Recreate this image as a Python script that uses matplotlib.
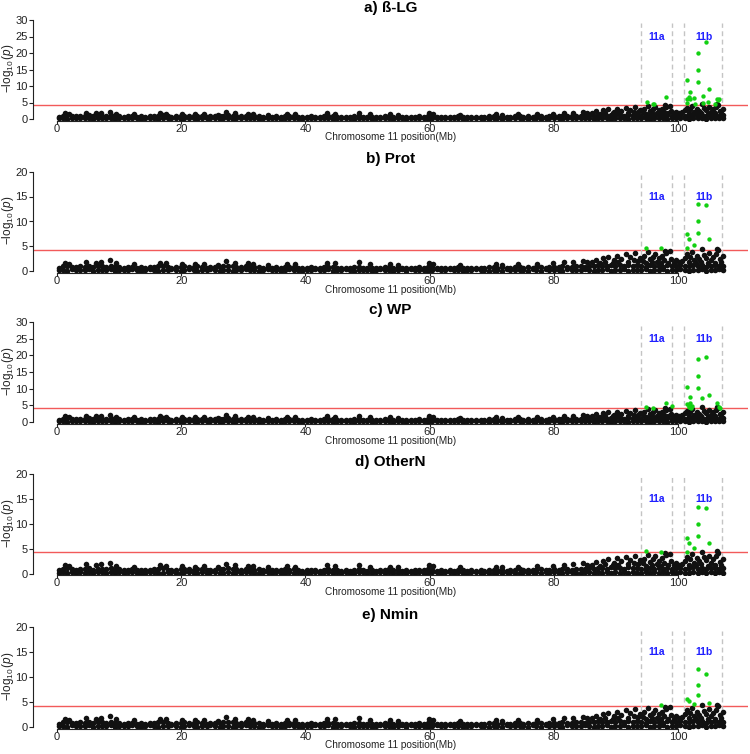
import matplotlib
matplotlib.use("Agg")
import matplotlib.pyplot as plt

plt.rcParams['font.family'] = ['Liberation Sans', 'DejaVu Sans']
plt.rcParams['mathtext.fontset'] = 'custom'
plt.rcParams['mathtext.rm'] = 'Liberation Sans'
plt.rcParams['mathtext.it'] = 'Liberation Sans:italic'

# panel info
titles = ['a) ß-LG', 'b) Prot', 'c) WP', 'd) OtherN', 'e) Nmin']
ymax = [30, 20, 30, 20, 20]
threshold = 4.3
xticks = [0, 20, 40, 60, 80, 100]
region_lines = [94.1, 99.0, 101.0, 107.1]
region_names = ['11a', '11b']
region_name_x = [96.6, 104.2]

# background SNPs (black), shared by all traits
band_pos = [0.3, 1.0, 1.6, 2.4, 3.1, 3.7, 4.5, 5.2, 5.8, 6.6,
            7.3, 7.9, 8.7, 9.4, 10.0, 10.8, 11.5, 12.1, 12.9, 13.6,
            14.2, 15.0, 15.7, 16.3, 17.1, 17.8, 18.4, 19.2, 19.9, 20.5,
            21.3, 22.0, 22.6, 23.4, 24.1, 24.7, 25.5, 26.2, 26.8, 27.6,
            28.3, 28.9, 29.7, 30.4, 31.0, 31.8, 32.5, 33.1, 33.9, 34.6,
            35.2, 36.0, 36.7, 37.3, 38.1, 38.8, 39.4, 40.2, 40.9, 41.5,
            42.3, 43.0, 43.6, 44.4, 45.1, 45.7, 46.5, 47.2, 47.8, 48.6,
            49.3, 49.9, 50.7, 51.4, 52.0, 52.8, 53.5, 54.1, 54.9, 55.6,
            56.2, 57.0, 57.7, 58.3, 59.1, 59.8, 60.4, 61.2, 61.9, 62.5,
            63.3, 64.0, 64.6, 65.4, 66.1, 66.7, 67.5, 68.2, 68.8, 69.6,
            70.3, 70.9, 71.7, 72.4, 73.0, 73.8, 74.5, 75.1, 75.9, 76.6,
            77.2, 78.0, 78.7, 79.3, 80.1, 80.8, 81.4, 82.2, 82.9, 83.5,
            84.3, 85.0, 85.6, 86.4, 87.1, 87.7, 88.5, 89.2, 89.8, 90.6,
            91.3, 91.9, 92.7, 93.4, 94.0, 94.8, 95.5, 96.1, 96.9, 97.6,
            98.2, 99.0, 99.7, 100.3, 101.1, 101.8, 102.4, 103.2, 103.9, 104.5,
            105.3, 106.0, 106.6, 107.2]
band_low = [0.2, 0.3, 0.1, 0.4, 0.2, 0.3, 0.2, 0.4, 0.1, 0.3,
            0.3, 0.2, 0.4, 0.1, 0.3, 0.2, 0.3, 0.4, 0.2, 0.1,
            0.2, 0.4, 0.3, 0.1, 0.2, 0.3, 0.4, 0.2, 0.1, 0.3,
            0.4, 0.2, 0.1, 0.3, 0.2, 0.4, 0.3, 0.1, 0.2, 0.3,
            0.1, 0.3, 0.2, 0.4, 0.3, 0.2, 0.1, 0.3, 0.4, 0.2,
            0.3, 0.1, 0.2, 0.4, 0.2, 0.3, 0.1, 0.2, 0.3, 0.4,
            0.2, 0.3, 0.4, 0.1, 0.3, 0.2, 0.4, 0.2, 0.1, 0.3,
            0.3, 0.2, 0.1, 0.3, 0.4, 0.2, 0.3, 0.1, 0.2, 0.4,
            0.1, 0.4, 0.2, 0.3, 0.2, 0.1, 0.3, 0.4, 0.2, 0.3,
            0.4, 0.2, 0.3, 0.1, 0.2, 0.3, 0.4, 0.2, 0.3, 0.1,
            0.2, 0.3, 0.1, 0.4, 0.3, 0.2, 0.2, 0.3, 0.1, 0.4,
            0.3, 0.1, 0.4, 0.2, 0.3, 0.2, 0.1, 0.4, 0.3, 0.2,
            0.2, 0.4, 0.3, 0.1, 0.3, 0.2, 0.4, 0.1, 0.3, 0.2,
            0.4, 0.1, 0.3, 0.2, 0.2, 0.4, 0.1, 0.3, 0.2, 0.4,
            0.1, 0.3, 0.2, 0.4, 0.2, 0.1, 0.3, 0.2, 0.4, 0.1,
            0.3, 0.2, 0.4, 0.2]
band_mid = [0.7, 1.0, 1.1, 0.9, 0.8, 1.0, 0.9, 1.1, 0.8, 1.0,
            1.0, 0.9, 1.1, 0.8, 0.9, 0.7, 0.8, 0.9, 0.7, 0.8,
            0.7, 0.8, 0.9, 1.0, 1.1, 0.8, 0.7, 0.8, 0.9, 1.0,
            0.9, 0.8, 1.0, 0.9, 0.7, 0.8, 0.8, 0.9, 1.0, 1.1,
            1.0, 0.9, 0.8, 1.0, 0.9, 0.8, 0.9, 0.7, 0.8, 0.7,
            0.8, 0.7, 0.9, 0.8, 0.9, 0.7, 0.6, 0.7, 0.8, 0.7,
            0.6, 0.8, 0.9, 0.8, 0.7, 0.6, 0.7, 0.6, 0.8, 0.9,
            0.7, 0.6, 0.7, 0.6, 0.7, 0.8, 0.9, 0.7, 0.8, 0.6,
            0.7, 0.6, 0.7, 0.8, 0.7, 0.9, 0.8, 0.6, 0.7, 0.6,
            0.7, 0.6, 0.8, 0.7, 0.6, 0.7, 0.6, 0.7, 0.6, 0.8,
            0.8, 0.7, 0.8, 0.6, 0.7, 0.8, 0.9, 0.7, 0.8, 0.7,
            0.8, 0.9, 0.7, 0.8, 0.9, 0.8, 1.0, 0.9, 0.8, 1.0,
            1.0, 0.9, 1.1, 1.0, 1.2, 1.1, 1.0, 1.3, 1.1, 1.2,
            1.0, 1.3, 1.1, 1.2, 1.0, 0.9, 1.2, 1.0, 1.1, 0.9,
            1.2, 1.0, 1.1, 1.2, 1.0, 1.1, 1.3, 1.0, 1.2, 0.9,
            1.1, 1.2, 1.0, 1.1]
peak_pos = [1.3, 2.0, 4.6, 6.3, 7.1, 8.6, 9.5, 12.4, 16.6, 17.5,
            20.2, 22.3, 23.7, 26.0, 27.2, 28.6, 30.7, 31.5, 33.9, 37.0,
            38.3, 43.4, 44.7, 48.7, 50.4, 53.7, 54.9, 59.9, 60.6, 64.9,
            70.7, 71.6, 74.2, 77.3, 79.9, 81.6, 83.1, 84.7, 85.4]
peak_val = [1.7, 1.5, 1.9, 1.7, 1.9, 2.2, 1.6, 1.4, 1.7, 1.6,
            1.5, 1.4, 1.5, 1.3, 2.0, 1.7, 1.6, 1.5, 1.3, 1.5,
            1.4, 1.7, 1.6, 1.8, 1.4, 1.4, 1.3, 1.7, 1.5, 1.3,
            1.4, 1.3, 1.4, 1.5, 1.6, 1.8, 1.9, 2.1, 1.8]
scat_pos = [86.2, 86.8, 87.4, 87.9, 88.3, 88.8, 89.5, 89.7, 90.1, 90.4,
            90.9, 91.6, 92.0, 92.3, 92.9, 93.1, 93.5, 93.9, 94.3, 94.6,
            94.9, 95.2, 95.5, 95.8, 96.0, 96.3, 96.6, 96.9, 97.2, 97.5,
            97.8, 97.9, 98.1, 98.4, 98.7, 98.9, 99.3, 99.6, 100.1, 100.6,
            101.2, 101.5, 101.8, 102.0, 102.3, 102.6, 102.9, 103.1, 103.4, 103.9,
            103.7, 104.2, 104.5, 104.8, 105.0, 105.3, 105.6, 105.9, 106.1, 106.2,
            106.5, 106.7, 107.0, 107.2]
scat_val = [1.8, 2.3, 1.6, 2.6, 1.9, 2.9, 1.7, 2.2, 3.1, 1.8,
            2.5, 3.4, 1.9, 2.8, 2.2, 3.6, 2.0, 2.7, 2.1, 3.0,
            1.6, 3.8, 2.4, 1.8, 2.9, 3.5, 1.9, 2.6, 1.6, 3.1,
            2.2, 4.1, 3.7, 1.7, 4.0, 2.5, 1.7, 2.2, 1.8, 2.0,
            2.6, 3.4, 1.8, 2.9, 3.9, 2.2, 1.7, 3.1, 2.5, 4.4,
            1.9, 3.3, 2.7, 1.6, 3.6, 2.2, 2.9, 1.7, 3.5, 4.5,
            4.2, 2.4, 1.8, 3.0]

# significant SNPs (green), per trait
sig_pos = [
    [95.0, 95.9, 96.2, 98.0, 101.4, 103.3, 104.5, 103.2, 103.2, 101.9,
     105.0, 101.8, 101.9, 101.4, 102.5, 104.0, 101.4, 102.7, 104.1, 104.8,
     105.9, 106.2, 106.4, 106.6],
    [94.8, 97.2, 103.3, 104.5, 103.2, 103.2, 101.4, 101.8, 102.5, 105.0, 101.5],
    [94.8, 96.0, 98.0, 99.1, 101.4, 103.3, 104.5, 103.2, 103.2, 101.9,
     105.0, 103.9, 101.5, 101.7, 102.0, 102.2, 101.8, 102.1, 106.2, 106.6, 106.7],
    [94.8, 97.2, 103.3, 104.5, 103.2, 103.2, 101.4, 101.8, 102.5, 105.0, 101.5],
    [97.2, 103.3, 104.5, 103.2, 103.2, 101.4, 101.8, 102.5, 105.0],
]
sig_val = [
    [5.2, 4.6, 4.4, 6.6, 11.7, 20.1, 23.2, 15.0, 11.2, 8.1,
     9.1, 6.7, 6.0, 6.1, 6.5, 7.1, 4.8, 4.4, 5.0, 5.1,
     4.5, 6.0, 5.8, 6.1],
    [4.7, 4.6, 13.6, 13.3, 10.1, 7.7, 7.4, 6.4, 5.3, 6.5, 4.6],
    [4.4, 4.3, 5.6, 4.7, 10.5, 18.8, 19.6, 13.7, 10.1, 7.6,
     8.0, 7.3, 5.4, 4.7, 5.6, 4.9, 4.4, 4.3, 5.8, 4.4, 4.3],
    [4.6, 4.4, 13.4, 13.2, 9.9, 7.5, 7.2, 6.2, 5.1, 6.2, 4.4],
    [4.5, 11.6, 10.6, 8.5, 6.5, 5.7, 5.3, 4.7, 4.9],
]

W, H = 750, 754
fig = plt.figure(figsize=(W / 100, H / 100), dpi=100)

left_px, right_px = 33, 748
x0_px, x100_px = 57, 678
zero_px = [119, 271.5, 422, 573.5, 727]
toptick_px = [20, 171.5, 322, 474, 627]

ppm = (x100_px - x0_px) / 100.0
xlim = ((left_px - x0_px) / ppm, (right_px - x0_px) / ppm)

bg_x = band_pos + band_pos + peak_pos + scat_pos
bg_y = band_low + band_mid + peak_val + scat_val

for i in range(5):
    bot = zero_px[i] + 1.5
    top = toptick_px[i] - 3
    upp = ymax[i] / (zero_px[i] - toptick_px[i])
    ax = fig.add_axes([left_px / W, 1 - bot / H, (right_px - left_px) / W, (bot - top) / H])
    ax.set_xlim(*xlim)
    ax.set_ylim(-1.5 * upp, ymax[i] + 3 * upp)

    ax.scatter(bg_x, bg_y, s=16, c='#111111', linewidths=0, zorder=2)
    ax.axhline(threshold, color='#f25a5a', lw=1.0, zorder=1)
    ax.vlines(region_lines, 0, ymax[i] * 0.965, colors='#c4c4c4', lw=1.0,
              linestyles=(0, (3.5, 2.5)), zorder=1)
    for nm, xx in zip(region_names, region_name_x):
        ax.text(xx, ymax[i] - 5, nm, color='#1f1fff', fontsize=7.5, fontweight='bold',
                ha='center', va='center')
    ax.scatter(sig_pos[i], sig_val[i], s=10, c='#12d012', linewidths=0, zorder=3)

    for side in ['top', 'right']:
        ax.spines[side].set_visible(False)
    ax.spines['left'].set_bounds(0, ymax[i])
    ax.spines['bottom'].set_bounds(0, 100)
    for side in ['left', 'bottom']:
        ax.spines[side].set_linewidth(0.8)
        ax.spines[side].set_color('#222222')
    ax.set_xticks(xticks)
    ax.set_yticks(range(0, ymax[i] + 1, 5))
    ax.tick_params(axis='y', length=3, width=0.8, pad=1, labelsize=8, colors='#222222')
    ax.tick_params(axis='x', length=2.2, width=0.8, pad=0.2, labelsize=8, colors='#222222')

    ax.set_ylabel(r'$-\log_{10}(p)$', fontsize=8.5, color='#222222')
    ax.yaxis.set_label_coords((16 - left_px) / (right_px - left_px), 0.5)

    fig.text((left_px + right_px) / 2 / W, 1 - (toptick_px[i] - 12) / H, titles[i],
             ha='center', va='center', fontsize=11, fontweight='bold')
    fig.text((left_px + right_px) / 2 / W, 1 - (zero_px[i] + 18.5) / H,
             'Chromosome 11 position(Mb)', ha='center', va='center', fontsize=7.2,
             color='#222222')

fig.savefig('out.png', dpi=100)
